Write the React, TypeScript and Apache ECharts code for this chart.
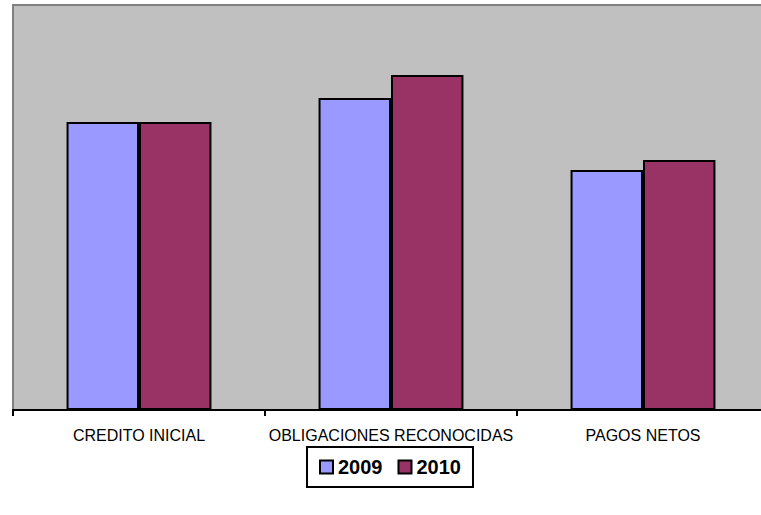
import React, { useEffect, useRef } from "react";
import * as echarts from "echarts";

const categories = ["CREDITO INICIAL", "OBLIGACIONES RECONOCIDAS", "PAGOS NETOS"];
const seriesNames = ["2009", "2010"];
const values2009 = [288, 312, 240];
const values2010 = [288, 335, 250];
const colors = ["#9999FF", "#993366"];

export default function App() {
  const ref = useRef<HTMLDivElement>(null);
  useEffect(() => {
    if (!ref.current) return;
    const chart = echarts.init(ref.current, null, { renderer: "svg" });
    chart.setOption({
      animation: false,
      backgroundColor: "#FFFFFF",
      textStyle: { fontFamily: "Liberation Sans, Arial, sans-serif" },
      grid: {
        left: 13,
        top: 5,
        right: 0,
        bottom: 105,
        show: true,
        backgroundColor: "#C0C0C0",
        borderColor: "#808080",
        borderWidth: 2,
      },
      legend: {
        data: seriesNames,
        left: 307,
        top: 447,
        padding: [10, 12, 10, 12],
        itemGap: 15,
        itemWidth: 13,
        itemHeight: 13,
        icon: "rect",
        borderColor: "#000000",
        borderWidth: 2,
        backgroundColor: "#FFFFFF",
        textStyle: {
          fontSize: 20,
          fontWeight: "bold",
          color: "#000000",
          fontFamily: "Liberation Sans, Arial, sans-serif",
        },
      },
      xAxis: {
        type: "category",
        data: categories,
        axisLine: { lineStyle: { color: "#000000", width: 2 } },
        axisTick: { show: true, interval: 0, length: 6, lineStyle: { color: "#000000", width: 2 } },
        axisLabel: {
          interval: 0,
          margin: 17,
          fontSize: 16,
          color: "#000000",
          fontFamily: "Liberation Sans, Arial, sans-serif",
        },
      },
      yAxis: {
        type: "value",
        min: 0,
        max: 405,
        show: false,
        splitLine: { show: false },
      },
      series: [
        {
          name: seriesNames[0],
          type: "bar",
          data: values2009,
          barGap: "0%",
          barCategoryGap: "42.5%",
          itemStyle: { color: colors[0], borderColor: "#000000", borderWidth: 2 },
        },
        {
          name: seriesNames[1],
          type: "bar",
          data: values2010,
          barGap: "0%",
          barCategoryGap: "42.5%",
          itemStyle: { color: colors[1], borderColor: "#000000", borderWidth: 2 },
        },
      ],
    });
    return () => chart.dispose();
  }, []);
  return (
    <div
      style={{
        position: "fixed",
        left: 0,
        top: 0,
        width: 761,
        height: 515,
        overflow: "hidden",
        background: "#FFFFFF",
      }}
    >
      <div ref={ref} style={{ width: 769, height: 515 }} />
    </div>
  );
}
